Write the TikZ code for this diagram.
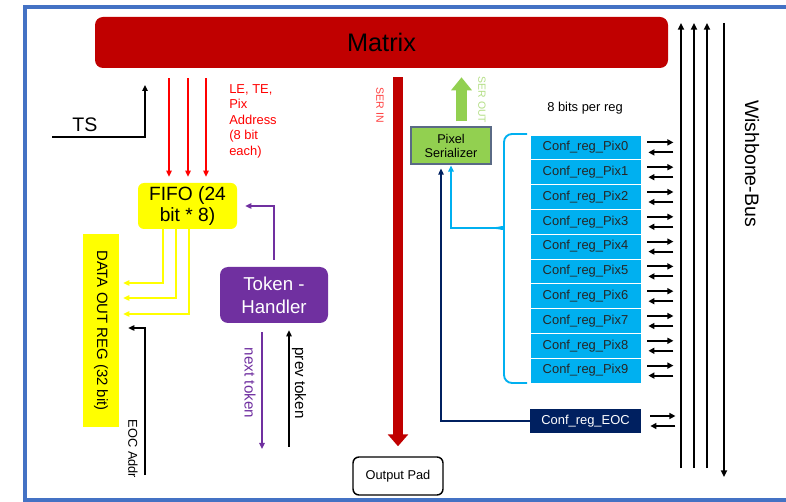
\documentclass[tikz,border=0pt]{standalone}
\usepackage{fontspec}
\setmainfont{Liberation Sans}
\usepackage{xcolor}
\usepackage{tikz}
\usetikzlibrary{arrows.meta,positioning,calc}
\definecolor{MxRed}{HTML}{C00000}
\definecolor{SigRed}{HTML}{FF0000}
\definecolor{FifoYellow}{HTML}{FFFF00}
\definecolor{TokPurple}{HTML}{7030A0}
\definecolor{SerGreen}{HTML}{92D050}
\definecolor{RegBlue}{HTML}{00B0F0}
\definecolor{EocNavy}{HTML}{002060}
\definecolor{FrameBlue}{HTML}{4472C4}
\definecolor{SerBorder}{HTML}{5A6A85}
\tikzset{
  blockbox/.style={rounded corners=4.5pt,align=center,inner sep=0pt},
  regbox/.style={fill=RegBlue,draw=white,line width=0.6pt,minimum width=83.25pt,minimum height=18.6pt,inner sep=0pt,font=\fontsize{9.7}{11}\selectfont,text=black!85},
  sigarrow/.style={-{Triangle[length=4.5pt,width=4pt]},line width=1pt},
  pairarrow/.style={-{Triangle[length=4.5pt,width=4.5pt]},line width=1.5pt,draw=black},
  busline/.style={line width=1.5pt,draw=black},
  fatarrow/.style={line width=7.5pt,-{Triangle[length=9pt,width=15pt]}},
  vlabel/.style={rotate=-90,inner sep=0pt}
}

\begin{document}
\begin{tikzpicture}[x=0.75pt,y=-0.75pt]
\useasboundingbox (0,0) rectangle (786,502);
\draw[FrameBlue,line width=3pt] (25,7.5) rectangle (800,500);

% blocks
\node[blockbox,fill=MxRed,rounded corners=6pt,minimum width=429.75pt,minimum height=38.25pt,font=\fontsize{19}{22}\selectfont] (matrix) at (381.5,42.5) {Matrix};
\node[blockbox,fill=FifoYellow,minimum width=74.25pt,minimum height=34.5pt,font=\fontsize{14.4}{15.8}\selectfont] (fifo) at (187.5,206) {FIFO (24\\bit * 8)};
\node[fill=FifoYellow,minimum width=27pt,minimum height=144.75pt,inner sep=0pt] (dataout) at (101,330.5) {};
\node[vlabel,font=\fontsize{11.2}{13}\selectfont] (dataouttxt) at (dataout) {DATA OUT REG (32 bit)};
\node[blockbox,fill=TokPurple,text=white,rounded corners=6pt,minimum width=81pt,minimum height=42pt,font=\fontsize{14}{17.5}\selectfont] (token) at (274,295) {Token -\\Handler};
\node[blockbox,draw=black,line width=1.1pt,minimum width=67.5pt,minimum height=28.5pt,font=\fontsize{9.6}{11}\selectfont] (outpad) at (398,476) {Output Pad};
\node[blockbox,rounded corners=0pt,fill=SerGreen,draw=SerBorder,line width=0.8pt,minimum width=60pt,minimum height=27.75pt,font=\fontsize{9.5}{10.5}\selectfont] (serial) at (451,145.5) {Pixel\\Serializer};

% config registers
\foreach \i in {0,...,9}{
  \node[regbox] (pix\i) at (585.5,{147.4+24.8*\i}) {Conf\_reg\_Pix\i};
  \draw[pairarrow] ([shift={(6,-5)}]pix\i.east) -- ++(26,0);
  \draw[pairarrow] ([shift={(32,5)}]pix\i.east) -- ++(-25,0);
}
\node[regbox,fill=EocNavy,draw=none,text=white] (eoc) at (585.5,421) {Conf\_reg\_EOC};
\draw[pairarrow] ([shift={(9,-5)}]eoc.east) -- ++(25,0);
\draw[pairarrow] ([shift={(34,5)}]eoc.east) -- ++(-25,0);
\node[font=\fontsize{9.7}{11}\selectfont] (bitsreg) at (585,108) {8 bits per reg};

% wishbone bus
\foreach \x in {681,694,707}
  \draw[busline,-{Triangle[length=5pt,width=4.5pt]}] (\x,468) -- (\x,23);
\draw[busline,-{Triangle[length=5pt,width=4.5pt]}] (724,23) -- (724,477);
\node[vlabel,font=\fontsize{14.6}{16}\selectfont] (wbus) at (752,163.5) {Wishbone-Bus};

% TS
\coordinate (tsin) at (52,137);
\coordinate (tsend) at (145,85);
\draw[sigarrow,line width=1.4pt] (tsin) -| (tsend);
\node[font=\fontsize{14.7}{16}\selectfont] (tslbl) at (85,125) {TS};

% matrix -> fifo
\foreach \x in {169,188,206}
  \draw[sigarrow,SigRed,shorten <=7.5pt,shorten >=4.5pt] (\x,0 |- matrix.south) -- (\x,0 |- fifo.north);
\node[anchor=north west,align=left,text=SigRed,inner sep=0pt,font=\fontsize{9.7}{11.6}\selectfont] (lelbl) at (229,84) {LE, TE,\\Pix\\Address\\(8 bit\\each)};

% fifo -> data out reg
\foreach \x/\y in {163/283,176/298,189/314}
  \draw[sigarrow,FifoYellow,shorten >=3pt] (\x,0 |- fifo.south) |- (dataout.east |- 0,\y);
\coordinate (eocaddr) at (145,475);
\draw[sigarrow,shorten >=6.75pt] (eocaddr) |- (dataout.east |- 0,328);
\node[vlabel,font=\fontsize{9.6}{11}\selectfont] (eoclbl) at (133,449) {EOC Addr};

% token handler
\draw[sigarrow,TokPurple,shorten <=5.25pt,shorten >=6pt] (token.north) |- (fifo.east);
\coordinate (nextend) at (262,449);
\draw[sigarrow,TokPurple,shorten <=6.75pt] (262,0 |- token.south) -- (nextend);
\node[vlabel,text=TokPurple,font=\fontsize{11.4}{13}\selectfont] (nextlbl) at (250,383) {next token};
\coordinate (prevstart) at (289,447);
\draw[sigarrow,shorten >=5.25pt] (prevstart) -- (289,0 |- token.south);
\node[vlabel,font=\fontsize{11.4}{13}\selectfont] (prevlbl) at (299,383) {prev token};

% serial in / out
\draw[fatarrow,MxRed,shorten <=6.75pt,shorten >=7.5pt] (matrix.south -| 398,0) -- (outpad.north -| 398,0);
\node[vlabel,text=SigRed!75,font=\fontsize{7.9}{9}\selectfont] (serinlbl) at (380,105.5) {SER IN};
\draw[SerGreen,line width=8.25pt,-{Triangle[length=9.75pt,width=15pt]},shorten <=3.75pt,shorten >=6.75pt] (serial.north -| 461.5,0) -- (matrix.south -| 461.5,0);
\node[vlabel,text=SerGreen!70,font=\fontsize{7.8}{9}\selectfont] (seroutlbl) at (482,100) {SER OUT};

% brace to serializer
\coordinate (bracetip) at (496,228);
\draw[RegBlue,line width=1.4pt,rounded corners=6pt] (527,134) -- (504,134) -- (504,221) to[out=-90,in=0] (bracetip);
\draw[RegBlue,line width=1.4pt,rounded corners=6pt] (bracetip) to[out=0,in=90] (504,235) -- (504,383) -- (527,383);
\draw[sigarrow,RegBlue,line width=1.3pt,shorten >=0.75pt] (bracetip) -| (451,0 |- serial.south);
\draw[sigarrow,EocNavy,shorten >=3pt] (eoc.west) -| (441,0 |- serial.south);
\end{tikzpicture}
\end{document}
